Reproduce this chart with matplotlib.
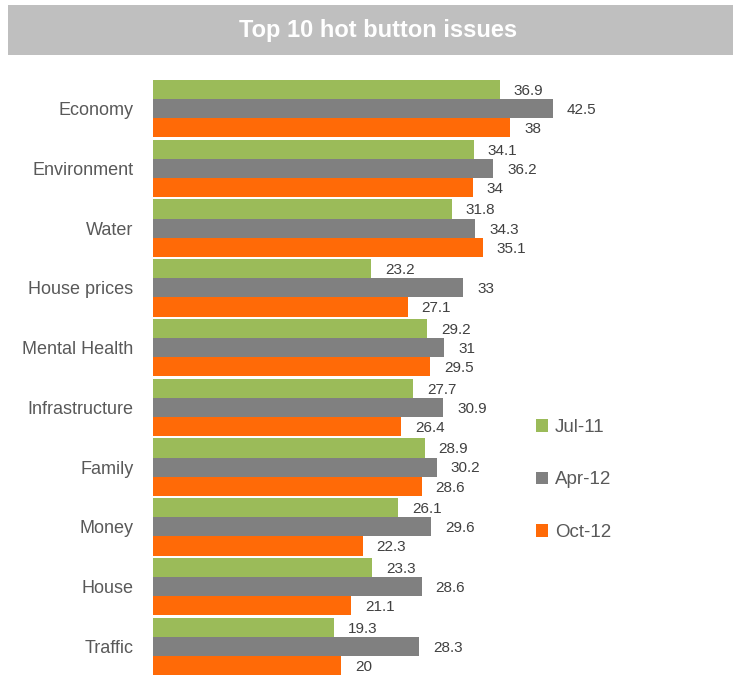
import numpy as np
import matplotlib.pyplot as plt
from matplotlib.patches import Rectangle

plt.rcParams['font.family'] = ['Liberation Sans', 'DejaVu Sans']

categories = ['Economy', 'Environment', 'Water', 'House prices', 'Mental Health',
              'Infrastructure', 'Family', 'Money', 'House', 'Traffic']
series_names = ['Jul-11', 'Apr-12', 'Oct-12']
jul11 = [36.9, 34.1, 31.8, 23.2, 29.2, 27.7, 28.9, 26.1, 23.3, 19.3]
apr12 = [42.5, 36.2, 34.3, 33, 31, 30.9, 30.2, 29.6, 28.6, 28.3]
oct12 = [38, 34, 35.1, 27.1, 29.5, 26.4, 28.6, 22.3, 21.1, 20]

colors = ['#9BBB59', '#808080', '#FF6A07']

fig = plt.figure(figsize=(7.33, 6.75), dpi=100)

# grey title bar
fig.patches.append(Rectangle((8 / 733, 1 - 55 / 675), 725 / 733, 50 / 675,
                             transform=fig.transFigure, facecolor='#BFBFBF',
                             edgecolor='none', zorder=0))
fig.text(378 / 733, 1 - 31 / 675, 'Top 10 hot button issues', color='white',
         fontsize=17, fontweight='bold', ha='center', va='center',
         family=['Liberation Sans Narrow', 'Liberation Sans', 'DejaVu Sans'])

ax = fig.add_axes([153 / 733, 0, 470 / 733, 1 - 80 / 675])

y = np.arange(len(categories))
h = 0.32
for k, vals in enumerate([jul11, apr12, oct12]):
    pos = y + (k - 1) * h
    ax.barh(pos, vals, height=h, color=colors[k], label=series_names[k])
    for p, v in zip(pos, vals):
        ax.annotate(f'{v:g}', (v, p), xytext=(10, -1), textcoords='offset points',
                    ha='left', va='center', fontsize=11, color='#404040')

ax.set_xlim(0, 50)
ax.set_ylim(len(categories) - 0.52, -0.48)
ax.set_yticks(y)
ax.set_yticklabels(categories, fontsize=13, color='#595959')
ax.tick_params(axis='y', length=0, pad=14)
ax.set_xticks([])
for s in ax.spines.values():
    s.set_visible(False)

ax.legend(loc='upper left', bbox_to_anchor=(366 / 470, 1 - 322 / 595), frameon=False,
          fontsize=13.5, labelspacing=1.9, handlelength=0.65, handleheight=0.65,
          handletextpad=0.35, labelcolor='#595959')

fig.savefig('out.png', dpi=100)
